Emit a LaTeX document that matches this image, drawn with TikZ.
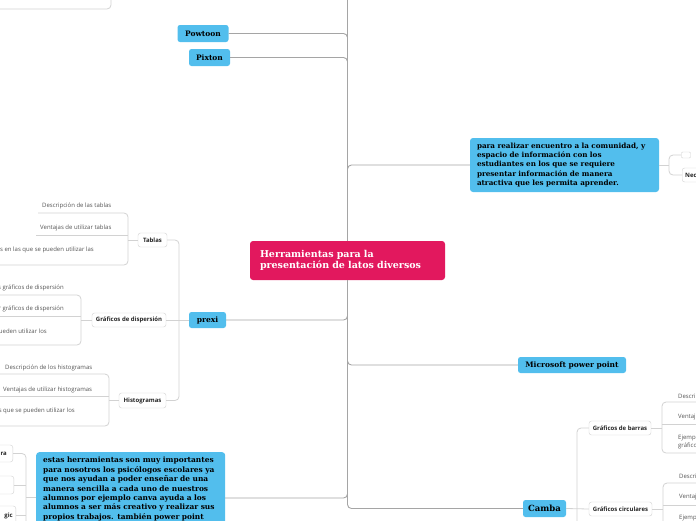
\documentclass[tikz,border=0pt]{standalone}
\usepackage{fontspec}
\newfontfamily\slabfont{DejaVu Serif}
\newfontfamily\leaffont{Open Sans}
\definecolor{rootred}{RGB}{226,24,94}
\definecolor{topicblue}{RGB}{82,190,237}
\definecolor{linegray}{RGB}{165,165,165}
\definecolor{leafgray}{RGB}{210,210,210}
\definecolor{textgray}{RGB}{85,85,85}

\begin{document}
\begin{tikzpicture}[x=1pt,y=-1pt,
    rootbox/.style={fill=rootred,text=white,rounded corners=3pt,align=left,
      font=\slabfont\bfseries\fontsize{9.5}{11.5}\selectfont,
      text width=175pt,inner xsep=10pt,minimum height=39pt},
    topic/.style={fill=topicblue,rounded corners=2.5pt,inner sep=0pt,
      font=\slabfont\bfseries\fontsize{7.5}{9}\selectfont,minimum height=17pt},
    longtopic/.style={fill=topicblue,rounded corners=3pt,align=left,
      font=\slabfont\bfseries\fontsize{7.2}{9.3}\selectfont,
      text width=175pt,inner xsep=7pt},
    sub/.style={draw=leafgray,fill=white,rounded corners=2.5pt,inner sep=0pt,
      font=\leaffont\bfseries\fontsize{6}{7}\selectfont,text=black!85,minimum height=14pt},
    leaf/.style={font=\leaffont\fontsize{6}{7.5}\selectfont,text=textgray,inner sep=0pt},
    branch/.style={draw=linegray,line width=0.9pt,rounded corners=4pt},
    twig/.style={draw=leafgray,line width=0.8pt,rounded corners=4pt}]
  \useasboundingbox (0,0) rectangle (696,520);

  % Caja cortada arriba
  \draw[leafgray,line width=0.8pt,rounded corners=4pt] (-20,-30) rectangle (111,9);

  % Nodo central
  \node[rootbox] (root) at (347.5,260.5) {Herramientas para la\\presentación de latos diversos};

  % Temas principales
  \node[topic,minimum width=51pt] (powtoon) at (203,33.5) {Powtoon};
  \node[topic,minimum width=41pt] (pixton) at (209.5,57.5) {Pixton};
  \node[topic,minimum width=37pt,minimum height=16pt] (prexi) at (207.5,320) {prexi};
  \node[topic,minimum width=108pt,minimum height=16pt] (mspp) at (572,365) {Microsoft power point};
  \node[topic,minimum width=43pt,font=\slabfont\bfseries\fontsize{8.5}{10}\selectfont] (camba) at (544.5,508.5) {Camba};
  \node[longtopic,minimum height=54pt] (para) at (564.5,165) {para realizar encuentro a la comunidad, y\\espacio de información con los\\estudiantes en los que se requiere\\presentar información de manera\\atractiva que les permita aprender.};
  \node[longtopic,anchor=north west,inner ysep=5pt,font=\slabfont\bfseries\fontsize{7.45}{9.4}\selectfont] (estas) at (36,452) {estas herramientas son muy importantes\\para nosotros los psicólogos escolares ya\\que nos ayudan a poder enseñar de una\\manera sencilla a cada uno de nuestros\\alumnos por ejemplo canva ayuda a los\\alumnos a ser más creativo y realizar sus\\propios trabajos. también power point};
  \coordinate (estasR) at (225,498);
  \coordinate (estasL) at (36,497);

  % Conectores del centro
  \draw[branch] (root.north) -- (347.5,-5);
  \draw[branch] (root.north) |- (powtoon.east);
  \draw[branch] (root.north) |- (pixton.east);
  \draw[branch] (root.north) |- (para.west);
  \draw[branch] (root.south) |- (prexi.east);
  \draw[branch] (root.south) |- (mspp.west);
  \draw[branch] (root.south) |- (estasR);
  \draw[branch] (root.south) |- (camba.west);

  % prexi
  \node[sub,minimum width=29pt] (tablas) at (152.5,240) {Tablas};
  \node[sub,minimum width=74pt] (disp) at (129,320) {Gráficos de dispersión};
  \node[sub,minimum width=47pt,minimum height=15pt] (histo) at (142.5,400.5) {Histogramas};
  \coordinate (prexiJ) at (179,320);
  \draw[twig] (prexi.west) -- (disp.east);
  \draw[twig] (tablas.east) -| (prexiJ) |- (histo.east);

  % Tablas
  \node[leaf,anchor=west] (tab1) at (42,206) {Descripción de las tablas};
  \node[leaf,anchor=west] (tab2) at (40,228) {Ventajas de utilizar tablas};
  \node[leaf,anchor=east] (tab3) at (94,250) {s en las que se pueden utilizar las};
  \coordinate (tablasJ) at (128,240);
  \draw[twig] (38,213) -| (128,265) -- (-5,265);
  \draw[twig] (36,235) -- (128,235);
  \draw[twig] (tablas.west) -- (tablasJ);

  % Dispersion
  \node[leaf,anchor=east] (dis1) at (64,288) {s gráficos de dispersión};
  \node[leaf,anchor=east] (dis2) at (64,309) {r gráficos de dispersión};
  \node[leaf,anchor=east] (dis3) at (47,331) {ueden utilizar los};
  \coordinate (dispJ) at (81,320);
  \draw[twig] (-5,295) -| (81,345) -- (-5,345);
  \draw[twig] (-5,316) -- (81,316);
  \draw[twig] (disp.west) -- (dispJ);

  % Histogramas
  \node[leaf,anchor=west] (his1) at (5,368) {Descripción de los histogramas};
  \node[leaf,anchor=west] (his2) at (3,390) {Ventajas de utilizar histogramas};
  \node[leaf,anchor=east] (his3) at (75,411) {s que se pueden utilizar los};
  \coordinate (histoJ) at (109,400.5);
  \draw[twig] (-5,374) -| (109,426) -- (-5,426);
  \draw[twig] (-5,396) -- (109,396);
  \draw[twig] (histo.west) -- (histoJ);

  % Camba
  \node[sub,minimum width=62pt] (barras) at (620,428) {Gráficos de barras};
  \node[sub,minimum width=63pt] (circ) at (620.5,509) {Gráficos circulares};
  \coordinate (cambaJ) at (577,508.5);
  \draw[twig] (camba.east) -- (circ.west);
  \draw[twig] (barras.west) -| (cambaJ) -- (577,530);

  \node[leaf,anchor=west] (bar1) at (678,396) {Descri};
  \node[leaf,anchor=west] (bar2) at (678,417) {Ventaj};
  \node[leaf,anchor=west,align=left] (bar3) at (678,442) {Ejempl\\gráfico};
  \coordinate (barrasJ) at (662,428);
  \draw[twig] (705,402) -| (662,453) -- (705,453);
  \draw[twig] (662,424) -- (705,424);
  \draw[twig] (barras.east) -- (barrasJ);

  \node[leaf,anchor=west] (cir1) at (679,476) {Descri};
  \node[leaf,anchor=west] (cir2) at (679,497) {Ventaj};
  \node[leaf,anchor=west] (cir3) at (679,518) {Ejemp};
  \coordinate (circJ) at (663,509);
  \draw[twig] (705,483) -| (663,530);
  \draw[twig] (663,505) -- (705,505);
  \draw[twig] (circ.east) -- (circJ);

  % para realizar ...
  \node[sub,minimum width=9pt,minimum height=6pt,rounded corners=1pt] (vacio) at (686,155) {};
  \node[sub,anchor=west,text width=34pt,inner xsep=3pt,align=left] (nec) at (682,175) {Nec};
  \coordinate (paraJ) at (669,165);
  \draw[twig] (para.east) -- (paraJ);
  \draw[twig] (vacio.west) -| (paraJ) |- (nec.west);

  % estas herramientas ...
  \node[sub,anchor=east,text width=28pt,align=right,inner xsep=6pt,minimum height=17pt] (izq1) at (13,453.5) {ra};
  \node[sub,anchor=east,minimum width=40pt,minimum height=18pt] (izq2) at (14,485) {};
  \node[sub,anchor=east,text width=28pt,align=right,inner xsep=3pt,minimum height=19pt] (izq3) at (16,515.5) {gic};
  \coordinate (estasJ) at (26,497);
  \draw[twig] (estasL) -- (estasJ);
  \draw[twig] (izq1.east) -| (estasJ) -- (26,530);
  \draw[twig] (izq2.east) -- (izq2.east -| estasJ);
  \draw[twig] (izq3.east) -- (izq3.east -| estasJ);
\end{tikzpicture}
\end{document}
